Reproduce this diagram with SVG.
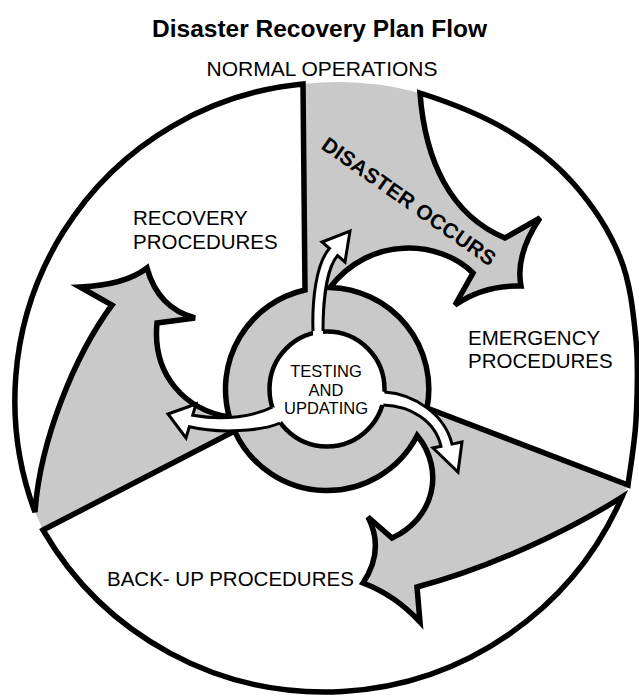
<svg xmlns="http://www.w3.org/2000/svg" width="639" height="696" viewBox="0 0 639 696">
<style>
text{font-family:"Liberation Sans",Arial,Helvetica,sans-serif;fill:#000}
.lbl{font-size:20.5px}
.ctr{font-size:16.5px;text-anchor:middle}
.gray{fill:#c9c9c9;stroke:none}
.region{fill:#fff;stroke:#000;stroke-width:5.5;stroke-linejoin:miter}
.hub{fill:#fff;stroke:#000;stroke-width:4.5}
.wfill{fill:#fff;stroke:none}
.wline{fill:none;stroke:#000;stroke-width:3;stroke-linejoin:miter}
</style>
<rect width="639" height="696" fill="#fff"/>
<text id="title" x="319.5" y="37" text-anchor="middle" font-size="24.5" font-weight="bold">Disaster Recovery Plan Flow</text>

<g id="wheel-base">
<path class="gray" d="M 303 84 A 306 306 0 0 1 420 93 C 448.6 102.1 481.5 115 507 130 C 532.5 145 554.2 161.8 573 183 C 591.8 204.2 609.5 230.8 620 257 C 630.5 283.2 633.3 312.8 636 340 C 638.7 367.2 637.3 395.8 636 420 C 634.7 444.2 629.3 474.2 628 485 L 622 497 A 325 325 0 0 1 43 530 L 35 512 A 318 318 0 0 1 303 84 Z"/>
</g>

<g id="recovery-procedures">
<path class="region" d="M 303 84 L 305 290 A 101.5 101.5 0 0 0 229.4 417 C 185 410 152 375 157 323 L 195 318 Q 158 308 147 268 Q 125 285 80 287 L 112 305 C 75 355 40 440 35 512 A 318 318 0 0 1 303 84 Z"/>
<text class="lbl" x="133" y="225">RECOVERY</text>
<text class="lbl" x="133" y="249">PROCEDURES</text>
</g>

<g id="emergency-procedures">
<path class="region" d="M 420 93 C 448.6 102.1 481.5 115 507 130 C 532.5 145 554.2 161.8 573 183 C 591.8 204.2 609.5 230.8 620 257 C 630.5 283.2 633.3 312.8 636 340 C 638.7 367.2 637.3 395.8 636 420 C 634.7 444.2 629.3 474.2 628 485 L 427 408 A 101.5 101.5 0 0 0 330 287.5 C 370 235 440 240 473 273 L 455 305 Q 484 285 521 286 Q 515 255 540 218 L 505 238 C 450 215 425 160 420 93 Z"/>
<text class="lbl" x="468" y="345">EMERGENCY</text>
<text class="lbl" x="468" y="368">PROCEDURES</text>
</g>

<g id="backup-procedures">
<path class="region" d="M 43 530 L 234.6 431.1 A 101.5 101.5 0 0 0 417.2 435.5 C 445 470 435 518 392 538 L 368 517 Q 385 550 363 583 Q 395 595 420 622 L 417 587 C 490 568 570 530 622 497 A 325 325 0 0 1 43 530 Z"/>
<text class="lbl" x="107" y="586">BACK- UP PROCEDURES</text>
</g>

<g id="normal-operations">
<text x="322" y="76" text-anchor="middle" font-size="21">NORMAL OPERATIONS</text>
<text x="320" y="148" transform="rotate(35 320 148)" font-size="21" font-weight="bold" textLength="207" lengthAdjust="spacing">DISASTER OCCURS</text>
</g>

<g id="testing-and-updating">
<circle class="hub" cx="327" cy="389" r="57.5"/>
</g>

<g id="connectors">
<path class="wfill" d="M 313 345 L 313 331 C 312 300 316 264 329.4 248.4 L 322 242 L 350 231 L 345 262 L 337.6 255.6 C 325.8 269.2 323 305 323 331 L 323 345 Z"/>
<path class="wline" d="M 313 331 C 312 300 316 264 329.4 248.4 L 322 242 L 350 231 L 345 262 L 337.6 255.6 C 325.8 269.2 323 305 323 331"/>
<path class="wfill" d="M 272.5 407 C 255 416 225 421 192.7 415.2 L 196 404 L 168 414 L 186 438 L 189.3 426.8 C 220 434 262 431 280 423 L 290 412 Z"/>
<path class="wline" d="M 272.5 407 C 255 416 225 421 192.7 415.2 L 196 404 L 168 414 L 186 438 L 189.3 426.8 C 220 434 262 431 280 423"/>
<path class="wfill" d="M 378 390 L 384.4 392 C 415 394 445 415 452 444.1 L 462 442 L 458 472 L 433 448 L 441 446.3 C 435 420 410 406 383.3 405 L 375 404 Z"/>
<path class="wline" d="M 384.4 392 C 415 394 445 415 452 444.1 L 462 442 L 458 472 L 433 448 L 441 446.3 C 435 420 410 406 383.3 405"/>
</g>

<g id="testing-label">
<text class="ctr" x="326" y="377">TESTING</text>
<text class="ctr" x="326" y="395.5">AND</text>
<text class="ctr" x="326" y="414">UPDATING</text>
</g>
</svg>
